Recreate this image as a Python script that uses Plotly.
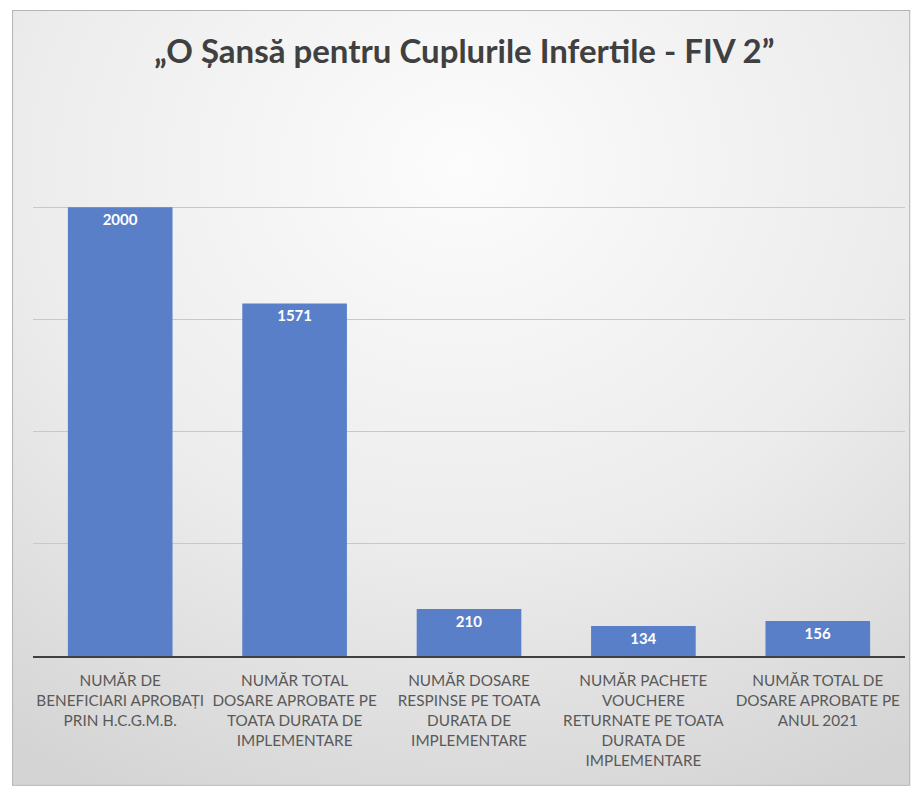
import base64
import plotly.graph_objects as go

# chart data
categories = [
    "NUMĂR DE<br>BENEFICIARI APROBAȚI<br>PRIN H.C.G.M.B.",
    "NUMĂR TOTAL<br>DOSARE APROBATE PE<br>TOATA DURATA DE<br>IMPLEMENTARE",
    "NUMĂR DOSARE<br>RESPINSE PE TOATA<br>DURATA DE<br>IMPLEMENTARE",
    "NUMĂR PACHETE<br>VOUCHERE<br>RETURNATE PE TOATA<br>DURATA DE<br>IMPLEMENTARE",
    "NUMĂR TOTAL DE<br>DOSARE APROBATE PE<br>ANUL 2021",
]
values = [2000, 1571, 210, 134, 156]
title_text = "„O Șansă pentru Cuplurile Infertile - FIV 2”"

# soft grey gradient background, like the slide
bg_svg = (
    "<svg xmlns='http://www.w3.org/2000/svg' width='900' height='776' viewBox='0 0 900 776' preserveAspectRatio='none'>"
    "<defs><radialGradient id='g' cx='50%' cy='20%' r='90%'>"
    "<stop offset='0' stop-color='#fcfcfc'/><stop offset='0.55' stop-color='#ececec'/>"
    "<stop offset='1' stop-color='#d4d4d4'/></radialGradient></defs>"
    "<rect width='900' height='776' fill='url(#g)' stroke='#b4b4b4' stroke-width='2'/></svg>"
)
bg_src = "data:image/svg+xml;base64," + base64.b64encode(bg_svg.encode()).decode()

fig = go.Figure()

fig.add_trace(go.Bar(
    x=categories,
    y=values,
    text=values,
    textposition="inside",
    insidetextanchor="end",
    textfont=dict(family="Lato", size=15, color="white", weight="bold"),
    marker=dict(color="#5a7fc9", line=dict(width=0)),
    hoverinfo="skip",
))

fig.update_layout(
    width=914,
    height=788,
    margin=dict(l=33, r=9, t=95, b=132),
    paper_bgcolor="white",
    plot_bgcolor="rgba(0,0,0,0)",
    showlegend=False,
    bargap=0.4,
    title=dict(
        text=title_text,
        x=0.508, xanchor="center",
        y=0.935, yanchor="middle",
        font=dict(family="Lato", size=33, color="#404040", weight="bold"),
    ),
    xaxis=dict(
        showline=True, linecolor="#404040", linewidth=2,
        showgrid=False, ticks="",
        tickfont=dict(family="Lato", size=15.3, color="#595959"),
        tickangle=0, ticklabelstandoff=10,
    ),
    yaxis=dict(
        range=[0, 2500], dtick=500,
        showgrid=True, gridcolor="#c8c8c8", gridwidth=1,
        showticklabels=False, zeroline=False,
    ),
    images=[dict(
        source=bg_src, xref="paper", yref="paper",
        x=-0.024, y=1.1515, sizex=1.03, sizey=1.383,
        xanchor="left", yanchor="top", sizing="stretch", layer="below",
    )],
)

fig.write_html("out.html", config={"displayModeBar": False},
               post_script="document.body.style.margin='0';")
